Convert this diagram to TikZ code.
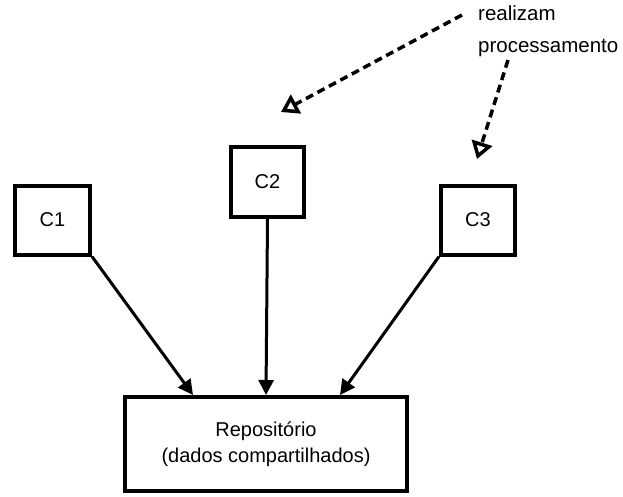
\documentclass[tikz,border=0pt]{standalone}
\usepackage{fontspec}
\setmainfont{Liberation Sans}
\usetikzlibrary{arrows.meta,calc}
\begin{document}
\begin{tikzpicture}[x=1pt,y=-1pt,
  box/.style={draw,line width=4pt,inner sep=0pt,font=\fontsize{20}{24}\selectfont},
  conn/.style={line width=3pt,-{Triangle[length=15pt,width=15pt]}},
  dconn/.style={line width=3.5pt,dash pattern=on 8pt off 5pt,-{Triangle[open,length=17pt,width=21pt,line width=3.5pt]}}]
\useasboundingbox (0,0) rectangle (623,497);
\node[box,minimum width=75pt,minimum height=69pt] (c1) at (52.5,220) {C1};
\node[box,minimum width=73pt,minimum height=70pt] (c2) at (267.5,182) {C2};
\node[box,minimum width=74pt,minimum height=69pt] (c3) at (478,220) {C3};
\node[box,minimum width=282pt,minimum height=94pt,align=center,font=\fontsize{20}{26}\selectfont] (repo) at (266,444) {Repositório\\(dados compartilhados)};
\node[anchor=north west,inner sep=0pt,align=left,font=\fontsize{20.5}{32}\selectfont] (lbl) at (478,5) {realizam\\processamento};
\coordinate (r1) at (193,395);
\coordinate (r2) at (266,395);
\coordinate (r3) at (340,395);
\coordinate (s1) at (462,15);
\coordinate (s2) at (508,60);
\coordinate (t1) at (281,112);
\coordinate (t2) at (477,159);
\draw[conn] (c1.south east) -- (r1);
\draw[conn] (c2.south) -- (r2);
\draw[conn] (c3.south west) -- (r3);
\draw[dconn] (s1) -- (t1);
\draw[dconn] (s2) -- (t2);
\end{tikzpicture}
\end{document}
